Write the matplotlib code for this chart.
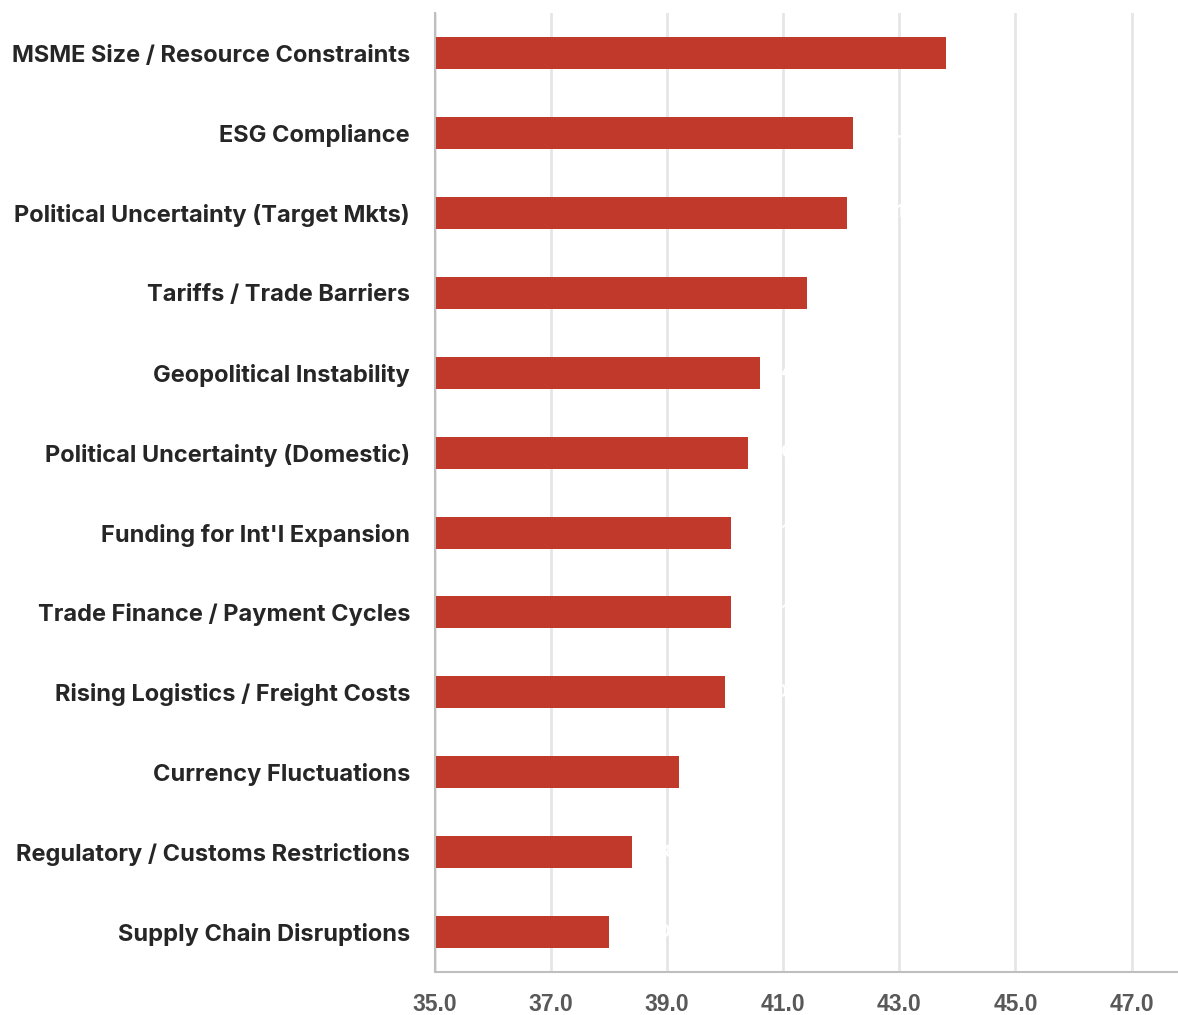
import matplotlib
matplotlib.use("Agg")
import matplotlib.pyplot as plt
from matplotlib import font_manager

categories = [
    "MSME Size / Resource Constraints",
    "ESG Compliance",
    "Political Uncertainty (Target Mkts)",
    "Tariffs / Trade Barriers",
    "Geopolitical Instability",
    "Political Uncertainty (Domestic)",
    "Funding for Int'l Expansion",
    "Trade Finance / Payment Cycles",
    "Rising Logistics / Freight Costs",
    "Currency Fluctuations",
    "Regulatory / Customs Restrictions",
    "Supply Chain Disruptions",
]
scores = [43.8, 42.2, 42.1, 41.4, 40.6, 40.4, 40.1, 40.1, 40.0, 39.2, 38.4, 38.0]
xticks = [35.0, 37.0, 39.0, 41.0, 43.0, 45.0, 47.0]

names = {f.name for f in font_manager.fontManager.ttflist}
label_font = "Inter" if "Inter" in names else "Open Sans"
tick_font = "Liberation Sans Narrow" if "Liberation Sans Narrow" in names else "Liberation Sans"

fig = plt.figure(figsize=(11.78, 10.15), dpi=100)
ax = fig.add_axes([0.3693, 0.0424, 0.6307, 0.9446])

y = list(range(len(categories)))
ax.barh(y, scores, height=0.4, color="#c0392b", zorder=3)

# value labels (drawn in white)
for yi, v in zip(y, scores):
    ax.text(v + 0.35, yi, f"{v:.1f}", color="white", fontsize=13,
            fontweight="bold", va="center", ha="left", zorder=4,
            family=label_font)

ax.set_xlim(35, 47.8)
ax.set_ylim(len(categories) - 0.5, -0.5)
ax.set_xticks(xticks)
ax.set_xticklabels([f"{t:.1f}" for t in xticks], family=tick_font,
                   fontweight="bold", fontsize=16.5, color="#595959")
ax.set_yticks(y)
ax.set_yticklabels(categories, family=label_font, fontweight="bold",
                   fontsize=17, color="#262626")
ax.tick_params(axis="both", length=0)
ax.tick_params(axis="x", pad=15)
ax.tick_params(axis="y", pad=18)

ax.grid(axis="x", color="#e6e6e6", linewidth=2, zorder=0)
for s in ["top", "right"]:
    ax.spines[s].set_visible(False)
for s in ["left", "bottom"]:
    ax.spines[s].set_color("#bfbfbf")
    ax.spines[s].set_linewidth(1.5)
    ax.spines[s].set_zorder(5)

fig.savefig("out.png", dpi=100, facecolor="white")
